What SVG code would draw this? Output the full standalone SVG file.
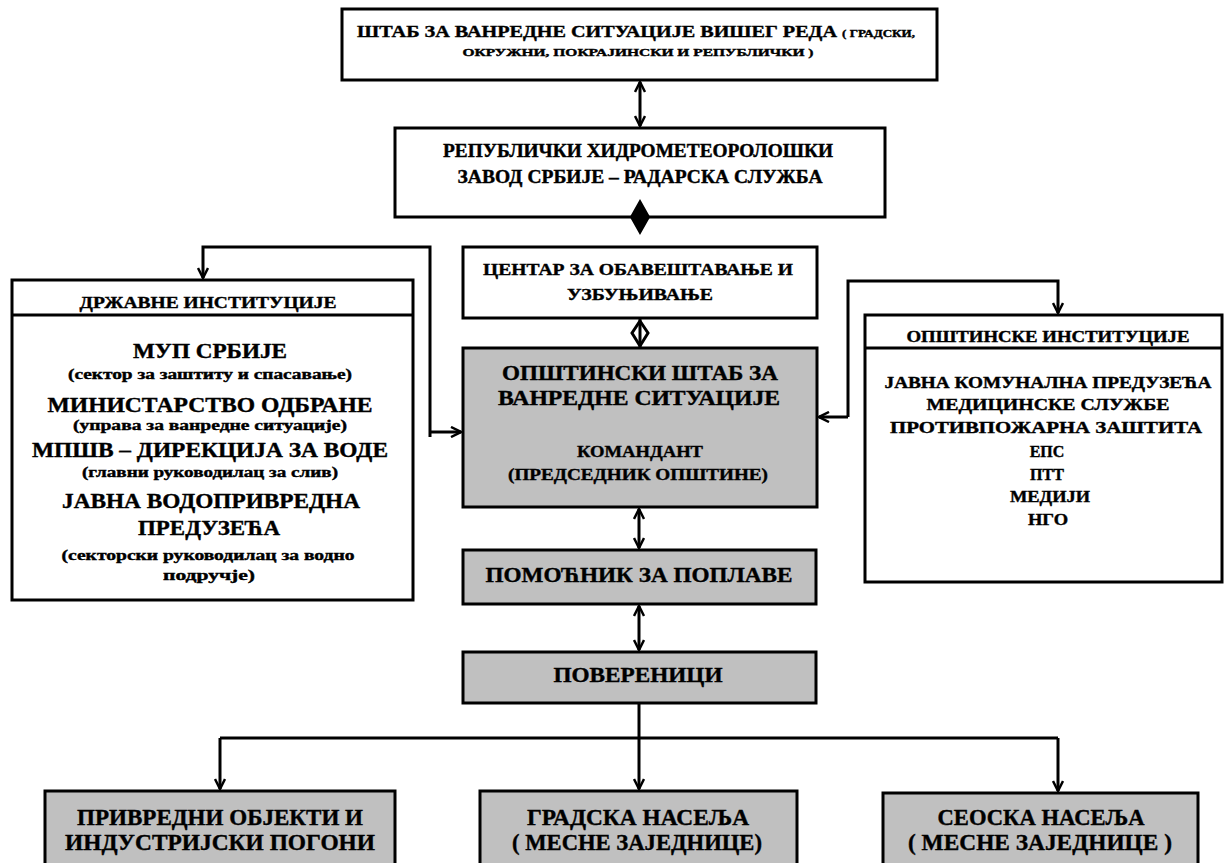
<svg xmlns="http://www.w3.org/2000/svg" width="1225" height="863" viewBox="0 0 1225 863">
<style>
.box{fill:#fff;stroke:#000;stroke-width:3}
.grey{fill:#c0c0c0;stroke:#000;stroke-width:3}
.t{font-family:"Liberation Serif","Times New Roman",serif;font-weight:bold;fill:#000;stroke:#000;stroke-width:0.4;text-anchor:middle}
.c{fill:none;stroke:#000;stroke-width:3}
</style>
<defs>
<marker id="ah" viewBox="0 0 12 12" refX="11" refY="6" markerWidth="12" markerHeight="12" markerUnits="userSpaceOnUse" orient="auto-start-reverse">
<path d="M1,1 L11,6 L1,11" fill="none" stroke="#000" stroke-width="2.5"/>
</marker>
</defs>
<rect width="1225" height="863" fill="#fff"/>

<g id="n-stab-viseg">
<rect class="box" x="342" y="9" width="595" height="71"/>
<text class="t" x="636" y="37" font-size="17" textLength="558" lengthAdjust="spacingAndGlyphs">ШТАБ ЗА ВАНРЕДНЕ СИТУАЦИЈЕ ВИШЕГ РЕДА <tspan font-size="11">( ГРАДСКИ,</tspan></text>
<text class="t" x="638" y="56" font-size="11" textLength="351" lengthAdjust="spacingAndGlyphs">ОКРУЖНИ, ПОКРАЈИНСКИ И РЕПУБЛИЧКИ )</text>
</g>

<g id="n-rhmz">
<rect class="box" x="395" y="128" width="490" height="89"/>
<text class="t" x="638" y="157" font-size="18" textLength="390" lengthAdjust="spacingAndGlyphs">РЕПУБЛИЧКИ ХИДРОМЕТЕОРОЛОШКИ</text>
<text class="t" x="640" y="183" font-size="18" textLength="365" lengthAdjust="spacingAndGlyphs">ЗАВОД СРБИЈЕ – РАДАРСКА СЛУЖБА</text>
</g>

<g id="n-centar">
<rect class="box" x="463" y="247" width="354" height="71"/>
<text class="t" x="638" y="275" font-size="17" textLength="310" lengthAdjust="spacingAndGlyphs">ЦЕНТАР ЗА ОБАВЕШТАВАЊЕ И</text>
<text class="t" x="640" y="300" font-size="17" textLength="146" lengthAdjust="spacingAndGlyphs">УЗБУЊИВАЊЕ</text>
</g>

<g id="n-opstinski-stab">
<rect class="grey" x="463" y="348" width="354" height="159"/>
<text class="t" x="640" y="380" font-size="21" textLength="276" lengthAdjust="spacingAndGlyphs">ОПШТИНСКИ ШТАБ ЗА</text>
<text class="t" x="639" y="405" font-size="21" textLength="282" lengthAdjust="spacingAndGlyphs">ВАНРЕДНЕ СИТУАЦИЈЕ</text>
<text class="t" x="640" y="457" font-size="17" textLength="126" lengthAdjust="spacingAndGlyphs">КОМАНДАНТ</text>
<text class="t" x="638" y="480" font-size="17" textLength="260" lengthAdjust="spacingAndGlyphs">(ПРЕДСЕДНИК ОПШТИНЕ)</text>
</g>

<g id="n-drzavne">
<rect class="box" x="12" y="280" width="401" height="320"/>
<line x1="12" y1="315" x2="413" y2="315" stroke="#000" stroke-width="3"/>
<text class="t" x="208" y="308" font-size="17" textLength="257" lengthAdjust="spacingAndGlyphs">ДРЖАВНЕ ИНСТИТУЦИЈЕ</text>
<text class="t" x="210" y="358" font-size="22" textLength="154" lengthAdjust="spacingAndGlyphs">МУП СРБИЈЕ</text>
<text class="t" x="210" y="379" font-size="14" textLength="284" lengthAdjust="spacingAndGlyphs">(сектор за заштиту и спасавање)</text>
<text class="t" x="210" y="412" font-size="22" textLength="325" lengthAdjust="spacingAndGlyphs">МИНИСТАРСТВО ОДБРАНЕ</text>
<text class="t" x="210" y="430" font-size="14" textLength="274" lengthAdjust="spacingAndGlyphs">(управа за ванредне ситуације)</text>
<text class="t" x="210" y="457" font-size="22" textLength="356" lengthAdjust="spacingAndGlyphs">МПШВ – ДИРЕКЦИЈА ЗА ВОДЕ</text>
<text class="t" x="210" y="477" font-size="14" textLength="256" lengthAdjust="spacingAndGlyphs">(главни руководилац за слив)</text>
<text class="t" x="211" y="508" font-size="22" textLength="298" lengthAdjust="spacingAndGlyphs">ЈАВНА ВОДОПРИВРЕДНА</text>
<text class="t" x="209" y="535" font-size="22" textLength="142" lengthAdjust="spacingAndGlyphs">ПРЕДУЗЕЋА</text>
<text class="t" x="208" y="560" font-size="14" textLength="293" lengthAdjust="spacingAndGlyphs">(секторски руководилац за водно</text>
<text class="t" x="209" y="580" font-size="14" textLength="92" lengthAdjust="spacingAndGlyphs">подручје)</text>
</g>

<g id="n-opstinske">
<rect class="box" x="865" y="315" width="357" height="267"/>
<line x1="865" y1="348" x2="1222" y2="348" stroke="#000" stroke-width="3"/>
<text class="t" x="1048" y="342" font-size="16" textLength="283" lengthAdjust="spacingAndGlyphs">ОПШТИНСКЕ ИНСТИТУЦИЈЕ</text>
<text class="t" x="1048" y="388" font-size="16" textLength="327" lengthAdjust="spacingAndGlyphs">ЈАВНА КОМУНАЛНА ПРЕДУЗЕЋА</text>
<text class="t" x="1048" y="410" font-size="16" textLength="243" lengthAdjust="spacingAndGlyphs">МЕДИЦИНСКЕ СЛУЖБЕ</text>
<text class="t" x="1046" y="433" font-size="16" textLength="312" lengthAdjust="spacingAndGlyphs">ПРОТИВПОЖАРНА ЗАШТИТА</text>
<text class="t" x="1047" y="457" font-size="16">ЕПС</text>
<text class="t" x="1047" y="480" font-size="16">ПТТ</text>
<text class="t" x="1050" y="502" font-size="16" textLength="80" lengthAdjust="spacingAndGlyphs">МЕДИЈИ</text>
<text class="t" x="1048" y="525" font-size="16" textLength="40" lengthAdjust="spacingAndGlyphs">НГО</text>
</g>

<g id="n-pomocnik">
<rect class="grey" x="463" y="550" width="353" height="54"/>
<text class="t" x="639" y="582" font-size="22" textLength="307" lengthAdjust="spacingAndGlyphs">ПОМОЋНИК ЗА ПОПЛАВЕ</text>
</g>

<g id="n-poverenici">
<rect class="grey" x="463" y="652" width="353" height="51"/>
<text class="t" x="638" y="682" font-size="22" textLength="169" lengthAdjust="spacingAndGlyphs">ПОВЕРЕНИЦИ</text>
</g>

<g id="n-privredni">
<rect class="grey" x="45" y="791" width="350" height="80"/>
<text class="t" x="220" y="825" font-size="23" textLength="286" lengthAdjust="spacingAndGlyphs">ПРИВРЕДНИ ОБЈЕКТИ И</text>
<text class="t" x="220" y="850" font-size="23" textLength="310" lengthAdjust="spacingAndGlyphs">ИНДУСТРИЈСКИ ПОГОНИ</text>
</g>

<g id="n-gradska">
<rect class="grey" x="480" y="791" width="317" height="80"/>
<text class="t" x="638" y="825" font-size="23" textLength="222" lengthAdjust="spacingAndGlyphs">ГРАДСКА НАСЕЉА</text>
<text class="t" x="637" y="850" font-size="23" textLength="250" lengthAdjust="spacingAndGlyphs">( МЕСНЕ ЗАЈЕДНИЦЕ)</text>
</g>

<g id="n-seoska">
<rect class="grey" x="883" y="793" width="315" height="80"/>
<text class="t" x="1041" y="825" font-size="23" textLength="207" lengthAdjust="spacingAndGlyphs">СЕОСКА НАСЕЉА</text>
<text class="t" x="1040" y="850" font-size="23" textLength="264" lengthAdjust="spacingAndGlyphs">( МЕСНЕ ЗАЈЕДНИЦЕ )</text>
</g>

<g id="connectors">
<line class="c" x1="640" y1="82" x2="640" y2="126" marker-start="url(#ah)" marker-end="url(#ah)"/>
<line class="c" x1="639" y1="509" x2="639" y2="548" marker-start="url(#ah)" marker-end="url(#ah)"/>
<line class="c" x1="639" y1="606" x2="639" y2="650" marker-start="url(#ah)" marker-end="url(#ah)"/>
<polygon points="640,201 649,217 640,233 631,217" fill="#000" stroke="#000" stroke-width="2"/>
<polygon points="640,321 648,333 640,346 632,333" fill="#fff" stroke="#000" stroke-width="3"/>
<path class="c" d="M640,318 V347"/>
<path class="c" d="M430,437 V247 H203 V278" marker-end="url(#ah)"/>
<path class="c" d="M430,432 H461" marker-end="url(#ah)"/>
<path class="c" d="M848,417 V281 H1058 V313" marker-end="url(#ah)"/>
<path class="c" d="M848,417 H819" marker-end="url(#ah)"/>
<path class="c" d="M639,704 V738"/>
<path class="c" d="M220,738 H1058"/>
<path class="c" d="M220,738 V789" marker-end="url(#ah)"/>
<path class="c" d="M639,738 V789" marker-end="url(#ah)"/>
<path class="c" d="M1058,738 V791" marker-end="url(#ah)"/>
</g>
</svg>
